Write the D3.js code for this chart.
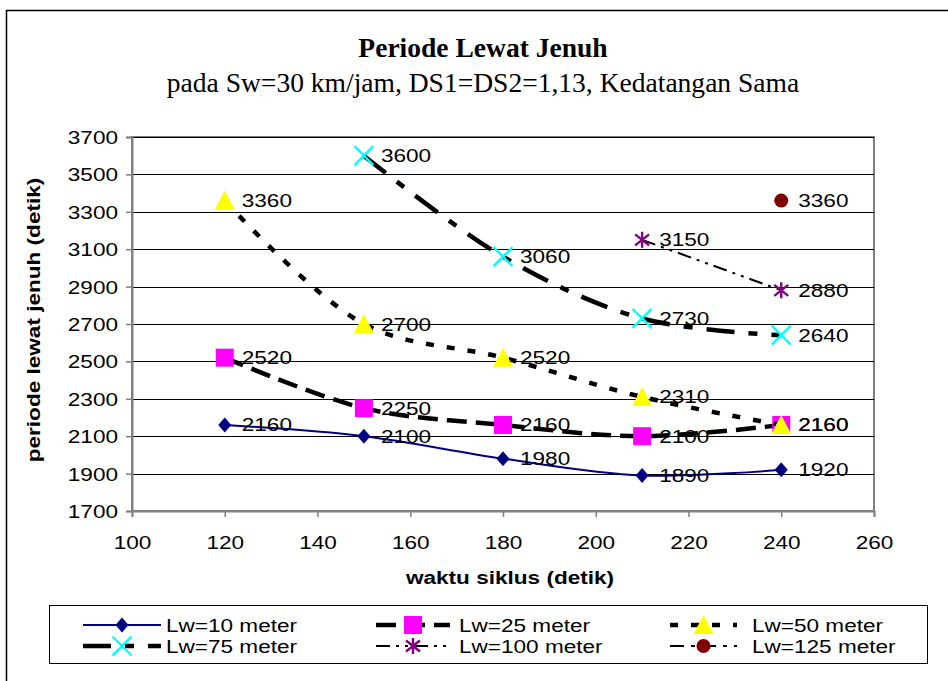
<!DOCTYPE html>
<html>
<head>
<meta charset="utf-8">
<script src="https://cdn.jsdelivr.net/npm/d3@7"></script>
<style>
  html, body { margin: 0; padding: 0; background: #fff; }
  svg { display: block; }
</style>
</head>
<body>
<svg id="chart" width="948" height="681"></svg>
<script>
// ---------- data ----------
const xTicks = [100, 120, 140, 160, 180, 200, 220, 240, 260];
const yTicks = [1700, 1900, 2100, 2300, 2500, 2700, 2900, 3100, 3300, 3500, 3700];

const seriesNames = ["Lw=10 meter", "Lw=25 meter", "Lw=50 meter", "Lw=75 meter", "Lw=100 meter", "Lw=125 meter"];
const lw10X  = [120, 150, 180, 210, 240];
const lw10Y  = [2160, 2100, 1980, 1890, 1920];
const lw25X  = [120, 150, 180, 210, 240];
const lw25Y  = [2520, 2250, 2160, 2100, 2160];
const lw50X  = [120, 150, 180, 210, 240];
const lw50Y  = [3360, 2700, 2520, 2310, 2160];
const lw75X  = [150, 180, 210, 240];
const lw75Y  = [3600, 3060, 2730, 2640];
const lw100X = [210, 240];
const lw100Y = [3150, 2880];
const lw125X = [240];
const lw125Y = [3360];

const titleText = "Periode Lewat Jenuh";
const subtitleText = "pada Sw=30 km/jam, DS1=DS2=1,13, Kedatangan Sama";
const xAxisTitle = "waktu siklus (detik)";
const yAxisTitle = "periode lewat jenuh (detik)";

// ---------- styles ----------
const SX = 1.22;                 // horizontal stretch of the original picture
const SANS = "'Liberation Sans', Arial, sans-serif";
const SERIF = "'Liberation Serif', 'Times New Roman', serif";
const FS = 18.5;

const styles = [
  { color: "#000080", width: 2,   dash: null,                 marker: "diamond",  mfill: "#000080" },
  { color: "#000000", width: 4.5, dash: "20,9",               marker: "square",   mfill: "#FF00FF" },
  { color: "#000000", width: 4.5, dash: "8,13",               marker: "triangle", mfill: "#FFFF00" },
  { color: "#000000", width: 4.5, dash: "28,14,9,14",         marker: "x",        mfill: "#00FFFF" },
  { color: "#000000", width: 2,   dash: "14,6,3,6,3,6",       marker: "star",     mfill: "#800080" },
  { color: "#000000", width: 2,   dash: "14,7,4,7",           marker: "circle",   mfill: "#800000" }
];

const series = [
  { name: seriesNames[0], x: lw10X,  y: lw10Y },
  { name: seriesNames[1], x: lw25X,  y: lw25Y },
  { name: seriesNames[2], x: lw50X,  y: lw50Y },
  { name: seriesNames[3], x: lw75X,  y: lw75Y },
  { name: seriesNames[4], x: lw100X, y: lw100Y },
  { name: seriesNames[5], x: lw125X, y: lw125Y }
].map((s, i) => Object.assign(s, styles[i], { pts: s.x.map((v, j) => [v, s.y[j]]) }));

// ---------- layout ----------
const svg = d3.select("#chart");
const plot = { left: 132, right: 874, top: 137, bottom: 511 };

const x = d3.scaleLinear().domain([100, 260]).range([plot.left, plot.right]);
const y = d3.scaleLinear().domain([1700, 3700]).range([plot.bottom, plot.top]);

function stext(g, str, px, py, opts) {
  opts = opts || {};
  const t = g.append("text")
    .attr("transform", `translate(${px},${py}) ${opts.rotate ? "rotate(" + opts.rotate + ")" : ""} scale(${opts.sx || SX},1)`)
    .attr("font-family", opts.family || SANS)
    .attr("font-size", opts.size || FS)
    .attr("font-weight", opts.weight || "normal")
    .attr("text-anchor", opts.anchor || "start")
    .attr("fill", "#000")
    .text(str);
  return t;
}

// outer chart border
svg.append("rect").attr("x", 6.5).attr("y", 10.5).attr("width", 1000).attr("height", 1000)
  .attr("fill", "#fff").attr("stroke", "#000").attr("stroke-width", 1.5);

// titles
stext(svg, titleText, 483, 57, { family: SERIF, size: 27, sx: 1.02, weight: "bold", anchor: "middle" });
stext(svg, subtitleText, 483, 92, { family: SERIF, size: 27, sx: 1.02, anchor: "middle" });

// plot area
svg.append("rect").attr("x", plot.left).attr("y", plot.top)
  .attr("width", plot.right - plot.left).attr("height", plot.bottom - plot.top)
  .attr("fill", "#fff").attr("stroke", "#808080").attr("stroke-width", 2);

// gridlines
svg.append("g").selectAll("line").data(yTicks.slice(1)).join("line")
  .attr("x1", plot.left).attr("x2", plot.right)
  .attr("y1", d => Math.round(y(d)) + 0.5).attr("y2", d => Math.round(y(d)) + 0.5)
  .attr("stroke", "#000").attr("stroke-width", 1.2);

// axes
const yAxis = d3.axisLeft(y).tickValues(yTicks).tickSize(6).tickFormat(d3.format("d"));
const xAxis = d3.axisBottom(x).tickValues(xTicks).tickSize(6).tickFormat(d3.format("d"));

const gy = svg.append("g").attr("transform", `translate(${plot.left},0)`).call(yAxis);
const gx = svg.append("g").attr("transform", `translate(0,${plot.bottom})`).call(xAxis);
[gx, gy].forEach(g => {
  g.select(".domain").attr("stroke", "#808080").attr("stroke-width", 2);
  g.selectAll(".tick line").attr("stroke", "#808080").attr("stroke-width", 1.5);
  g.selectAll(".tick text").remove();
});
gy.selectAll(".tick").each(function (d) {
  stext(d3.select(this), d3.format("d")(d), -14, 6.5, { anchor: "end" });
});
gx.selectAll(".tick").each(function (d) {
  stext(d3.select(this), d3.format("d")(d), 0, 37.5, { anchor: "middle" });
});

// axis titles
stext(svg, xAxisTitle, 510, 584, { weight: "bold", anchor: "middle" });
stext(svg, yAxisTitle, 40, 320, { weight: "bold", anchor: "middle", rotate: -90 });

// markers
function drawMarker(g, type, cx, cy, fill) {
  switch (type) {
    case "diamond":
      g.append("path").attr("d", `M${cx},${cy - 7.5}L${cx + 6.5},${cy}L${cx},${cy + 7.5}L${cx - 6.5},${cy}Z`).attr("fill", fill);
      break;
    case "square":
      g.append("rect").attr("x", cx - 9).attr("y", cy - 9).attr("width", 18).attr("height", 18).attr("fill", fill);
      break;
    case "triangle":
      g.append("path").attr("d", `M${cx},${cy - 10}L${cx + 10},${cy + 9}L${cx - 10},${cy + 9}Z`).attr("fill", fill);
      break;
    case "x":
      g.append("path").attr("d", `M${cx - 9.5},${cy - 9.5}L${cx + 9.5},${cy + 9.5}M${cx - 9.5},${cy + 9.5}L${cx + 9.5},${cy - 9.5}`)
        .attr("stroke", fill).attr("stroke-width", 2.4).attr("fill", "none");
      break;
    case "star":
      g.append("path").attr("d", `M${cx},${cy - 8}L${cx},${cy + 8}M${cx - 7},${cy - 5.5}L${cx + 7},${cy + 5.5}M${cx - 7},${cy + 5.5}L${cx + 7},${cy - 5.5}`)
        .attr("stroke", fill).attr("stroke-width", 2.4).attr("fill", "none");
      break;
    case "circle":
      g.append("circle").attr("cx", cx).attr("cy", cy).attr("r", 7).attr("fill", fill);
      break;
  }
}

const line = d3.line().x(d => x(d[0])).y(d => y(d[1])).curve(d3.curveCatmullRom.alpha(0.5));
const gSeries = svg.append("g");
series.forEach(s => {
  const g = gSeries.append("g");
  if (s.pts.length > 1) {
    g.append("path").attr("d", line(s.pts)).attr("fill", "none")
      .attr("stroke", s.color).attr("stroke-width", s.width)
      .attr("stroke-dasharray", s.dash);
  }
  s.pts.forEach(p => drawMarker(g, s.marker, x(p[0]), y(p[1]), s.mfill));
});

// data labels
const gLabels = svg.append("g");
series.forEach(s => {
  s.pts.forEach(p => stext(gLabels, String(p[1]), x(p[0]) + 17, y(p[1]) + 6.5));
});

// legend
const legend = svg.append("g");
legend.append("rect").attr("x", 49.5).attr("y", 605.5).attr("width", 878).attr("height", 58)
  .attr("fill", "#fff").attr("stroke", "#000").attr("stroke-width", 1);
const legCols = [{ x1: 83, x2: 161, tx: 166 }, { x1: 376, x2: 450, tx: 459 }, { x1: 670, x2: 737, tx: 752 }];
const legRows = [625, 646];
series.forEach((s, i) => {
  const c = legCols[i % 3], r = legRows[Math.floor(i / 3)];
  legend.append("line").attr("x1", c.x1).attr("x2", c.x2).attr("y1", r).attr("y2", r)
    .attr("stroke", s.color).attr("stroke-width", s.width).attr("stroke-dasharray", s.dash);
  drawMarker(legend, s.marker, (c.x1 + c.x2) / 2, r, s.mfill);
  stext(legend, s.name, c.tx, r + 6.5);
});
</script>
</body>
</html>
